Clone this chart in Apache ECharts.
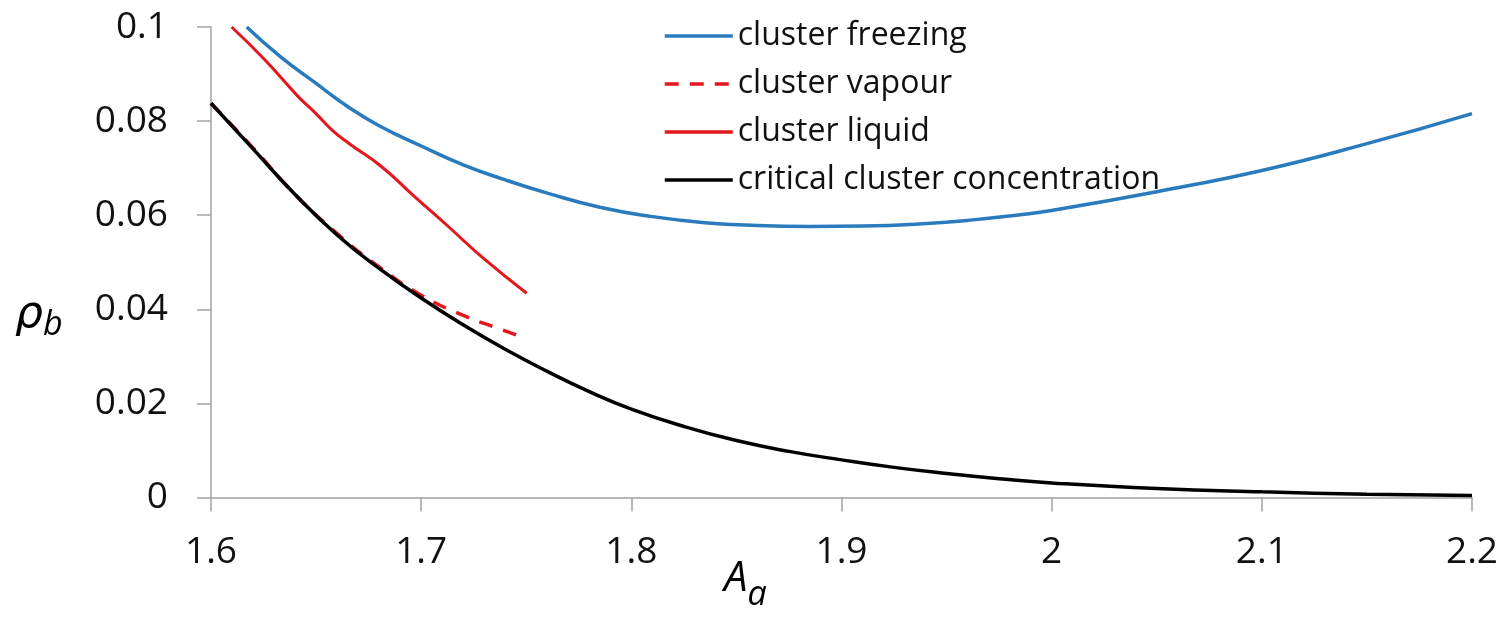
<!DOCTYPE html>
<html>
<head>
<meta charset="utf-8">
<script src="https://cdn.jsdelivr.net/npm/echarts@6/dist/echarts.min.js"></script>
<style>
html,body{margin:0;padding:0;background:#fff;}
#chart{width:1509px;height:618px;}
</style>
</head>
<body>
<div id="chart"></div>
<script>
// Series data
const freezingA   = [1.617, 1.633, 1.650, 1.665, 1.680, 1.700, 1.720, 1.740, 1.760, 1.785, 1.810, 1.835, 1.860, 1.885, 1.910, 1.935, 1.960, 1.985, 2.000, 2.050, 2.100, 2.150, 2.200];
const freezingRho = [0.1000, 0.0937, 0.0880, 0.0831, 0.0790, 0.0747, 0.0707, 0.0675, 0.0647, 0.0617, 0.0597, 0.0584, 0.0578, 0.0576, 0.0577, 0.0581, 0.0589, 0.0601, 0.0610, 0.0650, 0.0695, 0.0752, 0.0816];

const vapourA   = [1.60, 1.62, 1.64, 1.66, 1.68, 1.70, 1.72, 1.735, 1.75];
const vapourRho = [0.0838, 0.0743, 0.0644, 0.0561, 0.0490, 0.0430, 0.0387, 0.0362, 0.0338];

const liquidA   = [1.6098, 1.6257, 1.6415, 1.6497, 1.6576, 1.6655, 1.6812, 1.6970, 1.7129, 1.7287, 1.7502];
const liquidRho = [0.1000, 0.0930, 0.0852, 0.0817, 0.0781, 0.0753, 0.0703, 0.0639, 0.0576, 0.0512, 0.0434];

const criticalA   = [1.60, 1.62, 1.64, 1.66, 1.68, 1.70, 1.72, 1.74, 1.76, 1.78, 1.80, 1.825, 1.85, 1.875, 1.90, 1.925, 1.95, 1.975, 2.00, 2.05, 2.10, 2.15, 2.20];
const criticalRho = [0.0838, 0.0741, 0.0644, 0.0558, 0.0487, 0.0424, 0.0367, 0.0315, 0.0268, 0.0225, 0.0188, 0.0151, 0.0121, 0.0098, 0.0080, 0.0064, 0.0051, 0.0040, 0.0031, 0.0019, 0.0012, 0.0007, 0.0004];

const seriesNames = ['cluster freezing', 'cluster vapour', 'cluster liquid', 'critical cluster concentration'];

const xTicks = [1.6, 1.7, 1.8, 1.9, 2.0, 2.1, 2.2];
const yTicks = [0, 0.02, 0.04, 0.06, 0.08, 0.1];

function zip(a, b) { return a.map((v, i) => [v, b[i]]); }

const chart = echarts.init(document.getElementById('chart'));
const axisGray = '#a3a3a3';
const font = '"Open Sans", "Noto Sans", sans-serif';

chart.setOption({
  backgroundColor: '#fff',
  animation: false,
  grid: { left: 211, right: 37, top: 27, bottom: 120.5, containLabel: false },
  legend: {
    orient: 'vertical',
    left: 658,
    top: 11,
    itemWidth: 68,
    itemHeight: 14,
    itemGap: 8,
    data: seriesNames,
    itemStyle: { opacity: 0 },
    lineStyle: { width: 3.5 },
    textStyle: { fontFamily: font, fontSize: 32, color: '#111', lineHeight: 40 }
  },
  xAxis: {
    type: 'value',
    min: xTicks[0],
    max: xTicks[xTicks.length - 1],
    interval: 0.1,
    splitLine: { show: false },
    axisLine: { show: true, onZero: false, lineStyle: { color: axisGray, width: 1.5 } },
    axisTick: { show: true, inside: false, length: 14, lineStyle: { color: axisGray, width: 1.5 } },
    axisLabel: {
      margin: 36, fontFamily: font, fontSize: 37, color: '#111',
      formatter: v => String(+v.toFixed(1))
    }
  },
  yAxis: {
    type: 'value',
    min: yTicks[0],
    max: yTicks[yTicks.length - 1],
    interval: 0.02,
    splitLine: { show: false },
    axisLine: { show: true, lineStyle: { color: axisGray, width: 1.5 } },
    axisTick: { show: true, inside: false, length: 14, lineStyle: { color: axisGray, width: 1.5 } },
    axisLabel: {
      margin: 43, fontFamily: font, fontSize: 37, color: '#111',
      formatter: v => String(+v.toFixed(2))
    }
  },
  graphic: [
    {
      type: 'text', left: 15, top: 294,
      style: {
        text: '{a|ρ}{b|b}',
        rich: {
          a: { fontFamily: '"DejaVu Sans", sans-serif', fontStyle: 'italic', fontSize: 44, fill: '#000', verticalAlign: 'bottom' },
          b: { fontFamily: font, fontStyle: 'italic', fontSize: 34, fill: '#000', padding: [0, 0, -4, 0], verticalAlign: 'bottom' }
        }
      }
    },
    {
      type: 'text', left: 724, top: 558,
      style: {
        text: '{a|A}{b|a}',
        rich: {
          a: { fontFamily: font, fontStyle: 'italic', fontSize: 42, fill: '#000', verticalAlign: 'bottom' },
          b: { fontFamily: font, fontStyle: 'italic', fontSize: 34, fill: '#000', padding: [0, 0, -12, 0], verticalAlign: 'bottom' }
        }
      }
    }
  ],
  series: [
    {
      name: seriesNames[0], type: 'line', smooth: 0.5, symbol: 'none',
      data: zip(freezingA, freezingRho),
      lineStyle: { color: '#2a7bbd', width: 3.5 }, itemStyle: { color: '#2a7bbd' }, z: 3
    },
    {
      name: seriesNames[1], type: 'line', smooth: 0.5, symbol: 'none',
      data: zip(vapourA, vapourRho),
      lineStyle: { color: '#e3171c', width: 3.5, type: [14, 11] }, itemStyle: { color: '#e3171c' }, z: 2
    },
    {
      name: seriesNames[2], type: 'line', smooth: 0.5, symbol: 'none',
      data: zip(liquidA, liquidRho),
      lineStyle: { color: '#e3171c', width: 3 }, itemStyle: { color: '#e3171c' }, z: 3
    },
    {
      name: seriesNames[3], type: 'line', smooth: 0.5, symbol: 'none',
      data: zip(criticalA, criticalRho),
      lineStyle: { color: '#000', width: 3.5 }, itemStyle: { color: '#000' }, z: 4
    }
  ]
});
</script>
</body>
</html>
